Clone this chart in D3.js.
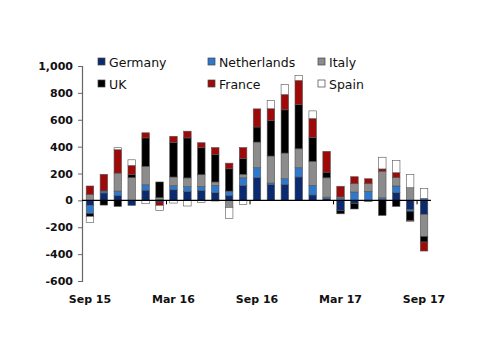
<!DOCTYPE html>
<html lang="en">
<head>
  <meta charset="UTF-8">
  <title>Flows by country</title>
  <style type="text/css">
     body{ margin:0; background:#fff; }
     text{ font-family: "DejaVu Sans", Verdana, sans-serif; }
  </style>
  <script src="https://d3js.org/d3.v7.min.js"></script>
</head>
<body>
  <svg></svg>
  <script>
    const W = 500, H = 354;

    const months = ["Sep 15","Oct 15","Nov 15","Dec 15","Jan 16","Feb 16","Mar 16","Apr 16","May 16",
                    "Jun 16","Jul 16","Aug 16","Sep 16","Oct 16","Nov 16","Dec 16","Jan 17","Feb 17",
                    "Mar 17","Apr 17","May 17","Jun 17","Jul 17","Aug 17","Sep 17"];
    const countries = ["Germany","Netherlands","Italy","UK","France","Spain"];
    const colors = ["#0b2a6f","#2f78cc","#8c8c8c","#000000","#9e0a0a","#ffffff"];

    // one array per country, one value per month
    const germany     = [-37, 55, 37,-37, 76,-12, 79, 67, 74, 57, 37,112,169,117,119,174, 40, 12,-75,-22, -8,  7, 57,-69,-104];
    const netherlands = [-60, 15, 32,  0, 40,  5, 30, 35, 30, 55, 32, 56, 74, 12, 42, 69, 72, 12, 15, 62, 67, 12, 50,-12,  15];
    const italy       = [ 45,  0,134,169,137, 15, 65, 65, 87, 25,-52, 26,191,201,191,141,178,144, 10, 62, 57,198, 62, 94,-164];
    const uk          = [-22,-35,-45, 22,212,117,258,298,201,206,166,117,112,265,322,330,178, 42,-25,-42,  0,-112,-45,-67,-42];
    const france      = [ 62,124,174, 69, 38,-25, 45, 50, 37, 50, 42, 82,135, 87,114,179,141,155, 80, 52, 37, 17, 37, -7, -67];
    const spain       = [-45,  0, 15, 42,-25,-37,-20,-42,-17, -5,-82,-30,  0, 62, 74, 35, 57,  0,  0,  0,  0, 87, 92, 99,  74];

    const yTicks = [1000, 800, 600, 400, 200, 0, -200, -400, -600];
    const yTickLabels = ["1,000","800","600","400","200","0","-200","-400","-600"];
    const xTickMonths = ["Mar 16","Sep 16","Mar 17","Sep 17"];
    const xLabelMonths = ["Sep 15","Mar 16","Sep 16","Mar 17","Sep 17"];

    const series = [germany, netherlands, italy, uk, france, spain];
    const table = months.map((m, i) => {
      const row = { month: m };
      countries.forEach((c, k) => { row[c] = series[k][i]; });
      return row;
    });

    const svg = d3.select("svg").attr("width", W).attr("height", H);

    const x = d3.scaleBand().domain(months).range([83, 431]).paddingInner(0.46).paddingOuter(0.23);
    const y = d3.scaleLinear().domain([-600, 1000]).range([281, 66]);
    const color = d3.scaleOrdinal().domain(countries).range(colors);

    const stacked = d3.stack().keys(countries).offset(d3.stackOffsetDiverging)(table);

    // bars
    svg.append("g").selectAll("g")
      .data(stacked)
      .join("g")
        .attr("fill", d => color(d.key))
      .selectAll("rect")
      .data(d => d)
      .join("rect")
        .attr("x", d => x(d.data.month))
        .attr("width", x.bandwidth())
        .attr("y", d => y(Math.max(d[0], d[1])))
        .attr("height", d => Math.abs(y(d[0]) - y(d[1])))
        .attr("stroke", "#555")
        .attr("stroke-width", 0.6);

    // y axis
    const yAxis = d3.axisLeft(y).tickValues(yTicks).tickSize(4).tickPadding(5)
      .tickFormat((d, i) => yTickLabels[i]);
    const yg = svg.append("g").attr("transform", "translate(82,0)").call(yAxis);
    yg.select(".domain").attr("stroke", "#666").attr("stroke-width", 1.2);
    yg.selectAll(".tick line").attr("stroke", "#666");
    yg.selectAll(".tick text").attr("font-size", 11).attr("font-weight", "bold")
      .attr("fill", "#111").attr("font-family", "DejaVu Sans, Verdana, sans-serif");

    // zero line
    svg.append("line")
      .attr("x1", 82).attr("x2", 431)
      .attr("y1", y(0)).attr("y2", y(0))
      .attr("stroke", "#000").attr("stroke-width", 1.2);

    // x ticks at band edges
    svg.append("g").selectAll("line")
      .data(xTickMonths)
      .join("line")
        .attr("x1", d => x(d) - x.step() * x.paddingInner() / 2)
        .attr("x2", d => x(d) - x.step() * x.paddingInner() / 2)
        .attr("y1", y(0)).attr("y2", y(0) + 4)
        .attr("stroke", "#000");

    // x labels
    svg.append("g").selectAll("text")
      .data(xLabelMonths)
      .join("text")
        .attr("x", d => x(d) + x.bandwidth() / 2)
        .attr("y", 303)
        .attr("text-anchor", "middle")
        .attr("font-size", 11)
        .attr("font-weight", "bold")
        .attr("fill", "#111")
        .text(d => d);

    // legend
    const legend = svg.append("g").selectAll("g")
      .data(countries)
      .join("g")
        .attr("transform", (d, i) => `translate(${98 + (i % 3) * 110},${i < 3 ? 62 : 84})`);
    legend.append("rect")
      .attr("x", 0).attr("y", -4).attr("width", 7).attr("height", 7)
      .attr("fill", d => color(d)).attr("stroke", "#444").attr("stroke-width", 0.7);
    legend.append("text")
      .attr("x", 11).attr("y", 4.5)
      .attr("font-size", 12.5)
      .attr("fill", "#111")
      .text(d => d);
  </script>
</body>
</html>
